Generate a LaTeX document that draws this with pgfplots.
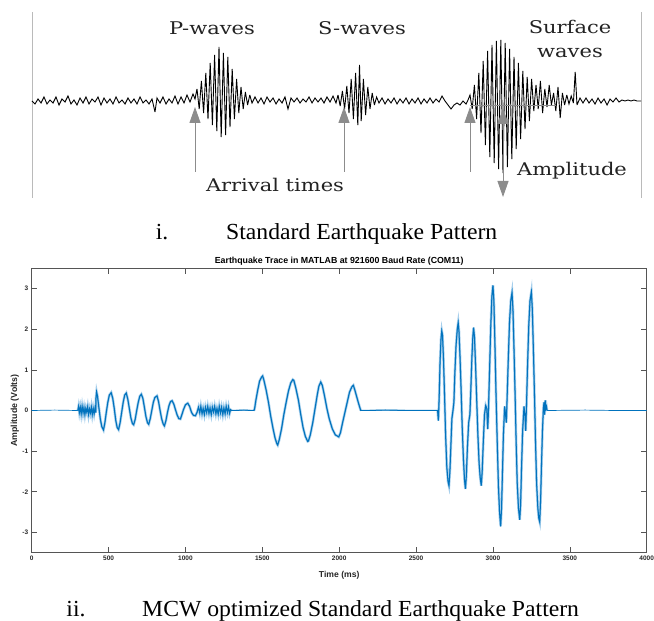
\documentclass[border=0pt]{standalone}
\usepackage{pgfplots}
\pgfplotsset{compat=1.18}
\usepackage{pgfplotstable}
\usetikzlibrary{arrows.meta}
\usepackage{graphicx}
\usepackage{fontspec}
\setmainfont{Liberation Serif}
\setsansfont{Liberation Sans}
\newfontfamily\slab{DejaVu Serif}
\definecolor{mblue}{HTML}{0072BD}
\definecolor{mlight}{HTML}{5FA8DC}
\definecolor{axgray}{HTML}{262626}
\definecolor{axline}{HTML}{555555}
\definecolor{arrgray}{HTML}{8C8C8C}
\definecolor{txtgray}{HTML}{222222}

\pgfplotstableread[row sep=\\]{
x y\\
0 0\\ 150 0.01\\ 300 0\\ 305 0.1\\ 310 -0.05\\ 316 0.08\\ 322 -0.08\\ 328 0.1\\ 334 -0.06\\ 340 0.07\\ 346 -0.1\\ 352 0.05\\ 358 -0.04\\ 364 0.09\\ 370 -0.1\\ 376 0.04\\ 382 -0.06\\ 388 0.08\\ 394 -0.1\\ 400 0.05\\ 406 -0.08\\ 412 0.06\\ 417 -0.05\\
418 0.3\\ 422 0.46\\ 428 0.35\\ 436 0.1\\ 446 -0.2\\ 456 -0.4\\ 467 -0.48\\ 476 -0.3\\ 485 -0.05\\ 495 0.2\\ 505 0.38\\ 517 0.44\\ 527 0.3\\ 537 0.05\\ 547 -0.25\\ 556 -0.42\\ 565 -0.47\\ 575 -0.3\\ 585 -0.05\\ 595 0.2\\ 605 0.38\\ 615 0.43\\ 625 0.28\\ 635 0.05\\ 645 -0.18\\ 655 -0.32\\ 663 -0.35\\ 673 -0.22\\ 683 0\\ 693 0.2\\ 703 0.35\\ 713 0.4\\ 723 0.3\\ 733 0.08\\ 743 -0.15\\ 753 -0.3\\ 761 -0.34\\ 771 -0.2\\ 781 0\\ 791 0.2\\ 801 0.32\\ 815 0.36\\ 825 0.22\\ 835 0\\ 845 -0.2\\ 855 -0.33\\ 863 -0.38\\ 873 -0.25\\ 883 -0.05\\ 893 0.12\\ 903 0.22\\ 913 0.24\\ 925 0.15\\ 935 0.02\\ 947 -0.12\\ 957 -0.2\\ 967 -0.21\\ 977 -0.1\\ 987 0.02\\ 1000 0.14\\ 1015 0.18\\ 1027 0.1\\ 1040 -0.05\\ 1052 -0.12\\ 1065 -0.13\\ 1075 -0.05\\
1085 0.08\\ 1093 -0.06\\ 1100 0.1\\ 1108 -0.08\\ 1115 0.05\\ 1123 -0.1\\ 1130 0.08\\ 1138 -0.05\\ 1145 0.1\\ 1153 -0.07\\ 1160 0.06\\ 1168 -0.1\\ 1175 0.08\\ 1183 -0.04\\ 1190 0.1\\ 1198 -0.08\\ 1205 0.05\\ 1213 -0.09\\ 1220 0.1\\ 1228 -0.06\\ 1235 0.08\\ 1243 -0.1\\ 1250 0.06\\ 1258 -0.08\\ 1265 0.1\\ 1273 -0.05\\ 1280 0.09\\ 1287 -0.07\\ 1293 0.02\\ 1300 0\\ 1380 0.01\\ 1446 0\\
1450 0.05\\ 1458 0.25\\ 1470 0.5\\ 1482 0.72\\ 1495 0.82\\ 1502 0.85\\ 1510 0.75\\ 1525 0.5\\ 1540 0.2\\ 1555 -0.15\\ 1570 -0.45\\ 1583 -0.68\\ 1595 -0.82\\ 1600 -0.85\\ 1610 -0.72\\ 1625 -0.45\\ 1640 -0.1\\ 1655 0.2\\ 1670 0.48\\ 1685 0.68\\ 1698 0.76\\ 1705 0.74\\ 1718 0.55\\ 1735 0.25\\ 1750 -0.1\\ 1765 -0.42\\ 1780 -0.64\\ 1795 -0.76\\ 1800 -0.75\\ 1812 -0.6\\ 1828 -0.3\\ 1843 0.05\\ 1858 0.4\\ 1868 0.6\\ 1880 0.7\\ 1890 0.62\\ 1905 0.35\\ 1920 0.05\\ 1935 -0.2\\ 1955 -0.45\\ 1975 -0.6\\ 1997 -0.65\\ 2008 -0.55\\ 2022 -0.3\\ 2037 -0.05\\ 2052 0.2\\ 2067 0.45\\ 2082 0.58\\ 2092 0.62\\ 2102 0.5\\ 2113 0.35\\ 2124 0.2\\ 2132 0.1\\ 2140 0\\
2300 0.01\\ 2500 0\\ 2640 0\\ 2645 -0.25\\ 2650 0.3\\ 2656 1.2\\ 2662 1.75\\ 2667 1.96\\ 2672 1.85\\ 2678 1.3\\ 2685 0.4\\ 2692 -0.6\\ 2700 -1.4\\ 2708 -1.75\\ 2714 -1.85\\ 2720 -1.5\\ 2727 -0.8\\ 2733 -0.2\\ 2740 0.0\\ 2746 0.2\\ 2752 0.9\\ 2760 1.6\\ 2768 2.0\\ 2774 2.16\\ 2779 1.95\\ 2786 1.3\\ 2793 0.5\\ 2800 -0.4\\ 2808 -1.2\\ 2815 -1.7\\ 2821 -1.93\\ 2827 -1.6\\ 2834 -0.9\\ 2842 -0.3\\ 2850 -0.1\\ 2856 0.5\\ 2863 1.3\\ 2869 1.8\\ 2874 2.04\\ 2880 1.8\\ 2887 1.1\\ 2894 0.3\\ 2902 -0.6\\ 2910 -1.3\\ 2917 -1.65\\ 2924 -1.85\\ 2930 -1.5\\ 2937 -0.8\\ 2945 -0.1\\ 2953 0.12\\ 2960 0.05\\ 2966 -0.46\\ 2970 -0.1\\ 2978 1.0\\ 2986 2.1\\ 2993 2.8\\ 3000 3.08\\ 3006 2.7\\ 3013 1.6\\ 3020 0.4\\ 3028 -0.8\\ 3036 -1.9\\ 3043 -2.5\\ 3050 -2.85\\ 3056 -2.4\\ 3062 -1.5\\ 3068 -0.6\\ 3076 0.1\\ 3082 -0.1\\ 3087 -0.3\\ 3092 0.3\\ 3100 1.3\\ 3108 2.2\\ 3116 2.7\\ 3124 2.9\\ 3130 2.5\\ 3137 1.5\\ 3144 0.4\\ 3151 -0.8\\ 3158 -1.8\\ 3166 -2.4\\ 3174 -2.69\\ 3180 -2.3\\ 3186 -1.4\\ 3193 -0.5\\ 3202 0.1\\ 3208 -0.1\\ 3213 -0.5\\ 3218 0.1\\ 3225 1.1\\ 3233 2.1\\ 3241 2.7\\ 3250 2.92\\ 3256 2.5\\ 3263 1.5\\ 3270 0.4\\ 3277 -0.8\\ 3284 -1.8\\ 3292 -2.4\\ 3298 -2.65\\ 3304 -2.74\\ 3310 -2.2\\ 3316 -1.3\\ 3322 -0.5\\ 3328 0.05\\ 3332 0.2\\ 3336 -0.1\\ 3340 0.25\\ 3344 0.05\\ 3348 0.1\\ 3352 0\\ 3600 0.01\\ 3800 0\\ 4000 0\\
}\quaketrace

\begin{document}
\begin{tikzpicture}
\useasboundingbox (0bp,0bp) rectangle (654bp,621bp);
% ---------- top panel: schematic ----------
\begin{axis}[at={(32bp,423bp)}, anchor=south west, scale only axis,
  width=609bp, height=186bp, xmin=32, xmax=641, ymin=-97, ymax=89,
  axis lines=none, clip=false]
\draw[arrgray!60, line width=0.9bp] (rel axis cs:0,0) -- (rel axis cs:0,1);
\draw[arrgray!60, line width=0.9bp] (rel axis cs:1,0) -- (rel axis cs:1,1);
\addplot[black, line width=0.9bp, mark=none, line join=miter, miter limit=4] coordinates {
(32,0)(35,-3)(38,2)(41,-2)(44,4)(47,-3)(50,1)(53,-2)(56,4)(59,-4)(62,2)(65,-1)(68,5)(71,-3)(74,1)(77,-4)(80,3)(83,-2)(86,4)(89,-3)(92,2)(95,-1)(98,4)(101,-4)(104,3)(107,-2)(110,2)(113,-3)(116,4)(119,-2)(122,1)(125,-3)(128,3)(131,-2)(134,2)(137,-3)(140,4)(143,-2)(146,1)(149,-3)(152,2)(155,-11)(157,3)(160,-2)(163,4)(166,-3)(169,2)(172,-2)(175,5)(178,-3)(181,4)(184,-2)(187,6)(190,-1)(193,7)(195,2)
(197,12)(199.2,-8)(201.4,20)(203.6,-12)(205.8,28)(208,-18)(210.2,38)(212.4,-24)(214.6,46)(216.8,-30)(219,54)(221.2,-36)(223.4,48)(225.6,-34)(227.8,44)(230,-26)(232.2,32)(234.4,-18)(236.6,22)(238.8,-12)(241,14)(243.2,-8)(245.4,9)(247.6,-4)(249.8,6)(252,-2)
(255,4)(258,-2)(261,3)(264,-3)(267,4)(270,-1)(273,3)(276,-3)(279,2)(282,-2)(285,4)(288,-8)(291,3)(294,-1)(297,3)(300,-2)(303,2)(306,-1)(309,4)(312,-2)(315,3)(318,-1)(321,3)(324,-2)(327,4)(330,-1)(333,5)(336,-2)
(338,6)(340.2,-5)(342.4,10)(344.6,-8)(346.8,15)(349,-12)(351.2,22)(353.4,-18)(355.6,28)(357.8,-24)(359.5,36)(361.2,-20)(363.4,22)(365.6,-14)(367.8,14)(370,-8)(372.2,8)(374.4,-4)(376.6,4)
(379,-2)(382,3)(385,-3)(388,2)(391,-2)(394,3)(397,-3)(400,2)(403,-2)(406,3)(409,-3)(412,2)(415,-2)(418,3)(421,-3)(424,2)(427,-2)(430,3)(433,-2)(436,2)(439,-1)(442,5)(445,0)(448,-4)(451,-8)(454,-4)(457,-2)(460,-4)(463,0)(466,-3)(468,1)
(470,6)(472.2,-8)(474.4,16)(476.6,-18)(478.8,28)(481,-32)(483.2,40)(485.4,-44)(487.6,50)(489.8,-56)(492,56)(494.2,-62)(496.4,60)(498.6,-68)(500.8,61)(503,-72)(505.2,58)(507.4,-66)(509.6,52)(511.8,-58)(514,44)(516.2,-48)(518.4,38)(520.6,-38)(522.8,30)(525,-28)(527.2,24)(529.4,-20)(531.6,22)(533.8,-10)(536,16)(538.2,-8)(540.4,20)(542.6,-12)(544.8,12)(547,-6)(549.2,16)(551.4,-4)(553.6,8)(555.8,-10)(558,14)(560.2,-17)(562.4,8)(564.6,-4)(566.8,6)(569,-3)(571.2,5)(573.4,-2)(575.2,29)(577,-4)(580,3)(583,-2)
(586,3)(589,-2)(592,2)(595,-3)(598,3)(601,-2)(604,2)(607,-4)(610,2)(613,-1)(616,3)(619,-1)(622,1)(625,0)(628,1)(631,0)(634,1)(637,0)(641,0)
};
% arrows
\draw[arrgray, line width=0.9bp, -{Triangle[width=11bp,length=16bp]}] (axis cs:195,-71) -- (axis cs:195,-6);
\draw[arrgray, line width=0.9bp, -{Triangle[width=11bp,length=16bp]}] (axis cs:344,-71) -- (axis cs:344,-6);
\draw[arrgray, line width=0.9bp, -{Triangle[width=11bp,length=16bp]}] (axis cs:470,-71) -- (axis cs:470,-6);
\draw[arrgray, line width=0.9bp] (axis cs:470,-4) -- (axis cs:556,-4);
\draw[arrgray, line width=0.9bp, {Triangle[width=11bp,length=16bp]}-{Triangle[width=11bp,length=16bp]}] (axis cs:503,-7) -- (axis cs:503,-96);
% labels
\tikzset{lab/.style={text=txtgray, inner sep=0pt, font=\fontsize{17.5bp}{20bp}\slab}}
\node[lab] at (axis cs:212,73) {\scalebox{1.2}[1]{P-waves}};
\node[lab] at (axis cs:362,73) {\scalebox{1.2}[1]{S-waves}};
\node[lab] at (axis cs:570,74) {\scalebox{1.2}[1]{Surface}};
\node[lab] at (axis cs:570,48) {\scalebox{1.2}[1]{waves}};
\node[lab] at (axis cs:275,-84) {\scalebox{1.2}[1]{Arrival times}};
\node[lab] at (axis cs:572,-70) {\scalebox{1.2}[1]{Amplitude}};
\end{axis}
% captions
\tikzset{captxt/.style={font=\fontsize{23bp}{26bp}\selectfont, inner sep=0pt, text=black}}
\node[captxt, anchor=base] at (162bp,381bp) {\scalebox{1.03}[1]{i.}};
\node[captxt, anchor=base west] at (226bp,381bp) {\scalebox{1.03}[1]{Standard Earthquake Pattern}};
\node[captxt, anchor=base] at (76bp,4.5bp) {\scalebox{1.03}[1]{ii.}};
\node[captxt, anchor=base west] at (142bp,4.5bp) {\scalebox{1.03}[1]{MCW optimized Standard Earthquake Pattern}};
% ---------- bottom panel: MATLAB trace ----------
\begin{axis}[at={(31.7bp,68.3bp)}, anchor=south west, scale only axis,
  width=615bp, height=284.4bp,
  xmin=0, xmax=4000, ymin=-3.5, ymax=3.5,
  xtick={0,500,...,4000}, ytick={-3,-2,...,3},
  tick align=inside, major tick length=5.5bp,
  axis line style={axline, line width=0.6bp},
  tick style={axline, line width=0.6bp},
  every tick label/.append style={font=\fontsize{6.5bp}{8bp}\sffamily\bfseries, text=axgray},
  /pgf/number format/assume math mode=true,
  scaled ticks=false,
  xticklabel style={/pgf/number format/set thousands separator={}},
  every axis title shift=0pt,
  title={Earthquake Trace in MATLAB at 921600 Baud Rate (COM11)},
  title style={font=\fontsize{8.8bp}{10bp}\sffamily\bfseries, text=black, at={(axis description cs:0.5,1.026)}, anchor=center, inner sep=0pt},
  xlabel={Time (ms)},
  xlabel style={font=\fontsize{8.6bp}{10bp}\sffamily\bfseries, text=axgray, at={(axis description cs:0.5,-0.078)}, anchor=center, inner sep=0pt},
  ylabel={Amplitude (Volts)},
  ylabel style={font=\fontsize{8.8bp}{10bp}\sffamily\bfseries, text=axgray, at={(axis description cs:-0.0272,0.5)}, anchor=center, inner sep=0pt},
]
\addplot[mblue, line width=0.7bp, mark=none] table {\quaketrace};
\addplot[mlight, line width=2.6bp, mark=none, opacity=0.55, restrict x to domain=300:1300] table {\quaketrace};
\addplot[mlight, line width=2.6bp, mark=none, opacity=0.55, restrict x to domain=1446:2140] table {\quaketrace};
\addplot[mlight, line width=2.6bp, mark=none, opacity=0.55, restrict x to domain=2640:3352] table {\quaketrace};
\addplot[mblue, line width=1.0bp, mark=none, restrict x to domain=300:3352] table {\quaketrace};
\end{axis}
\end{tikzpicture}
\end{document}
